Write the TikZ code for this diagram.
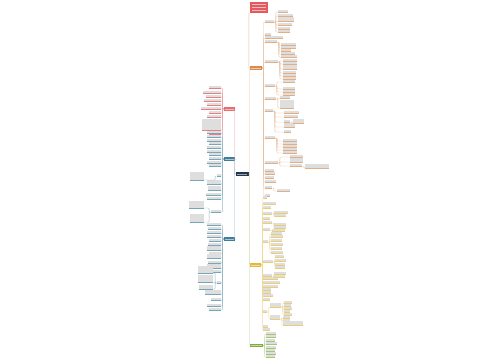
\documentclass[tikz,border=0pt]{standalone}
\usepackage{tikz}
\usetikzlibrary{positioning}
\definecolor{mmRed}{HTML}{E0474C}
\definecolor{mmBlue}{HTML}{3F7F9C}
\definecolor{mmOrange}{HTML}{D98B4E}
\definecolor{mmYellow}{HTML}{E3B938}
\definecolor{mmGreen}{HTML}{7DAE3A}
\definecolor{mmNavy}{HTML}{23364F}
\tikzset{
	mind sketch/.style={x=1pt,y=-1pt,line width=0.35pt},
	topic/.style={fill=#1,inner sep=0pt,minimum width=12pt,minimum height=3.4pt,
		path picture={\fill[white,opacity=.55]
			([xshift=1.2pt,yshift=-0.4pt]path picture bounding box.west) rectangle
			([xshift=-1.2pt,yshift=0.4pt]path picture bounding box.east);}},
	leaf/.style={fill=black!13,inner sep=0pt,minimum height=#1},
	leaf/.default=1.8pt,
	wire/.style={draw=#1!55,rounded corners=0.8pt},
	% the big title box
	headline/.style={fill=mmRed!90,inner sep=0pt,minimum width=18pt,minimum height=11pt,
		path picture={\foreach \k in {-3,0,3}
			\fill[white,opacity=.6]
				([xshift=2pt,yshift=\k pt-0.4pt]path picture bounding box.west) rectangle
				([xshift=-2pt,yshift=\k pt+0.4pt]path picture bounding box.east);}}
}
% children to the right: parent, parent anchor, colour, x, y/width/height list
\newcommand\kidsR[5]{%
	\foreach \yy/\ww/\hh [count=\i] in {#5} {
		\node[leaf=\hh pt, minimum width=\ww pt, anchor=south west] (#1-\i) at (#4,\yy) {};
		\draw[#3!70] (#1-\i.south west) -- (#1-\i.south east);
		\draw[wire=#3] (#1.#2) -- ++(1.5,0) |- (#1-\i.south west);
	}}
% children to the left, x is the right end
\newcommand\kidsL[5]{%
	\foreach \yy/\ww/\hh [count=\i] in {#5} {
		\node[leaf=\hh pt, minimum width=\ww pt, anchor=south east] (#1-\i) at (#4,\yy) {};
		\draw[#3!70] (#1-\i.south west) -- (#1-\i.south east);
		\draw[wire=#3] (#1.#2) -- ++(-1.5,0) |- (#1-\i.south east);
	}}

\begin{document}
\begin{tikzpicture}[mind sketch]
	\fill[white] (0,0) rectangle (500,360);
	\useasboundingbox (0,0) rectangle (500,360);

	% main topics
	\node[headline] (title) at (259,7.5) {};
	\node[topic=mmNavy, minimum width=13pt, minimum height=4pt] (hub) at (242,174) {};
	\node[topic=mmRed!80, minimum width=11pt] (R) at (229.5,109) {};
	\node[topic=mmBlue, minimum width=11pt] (B1) at (229.5,159) {};
	\node[topic=mmBlue, minimum width=11pt] (B2) at (229.5,239) {};
	\node[topic=mmOrange, minimum width=12pt] (O) at (256,68) {};
	\node[topic=mmYellow, minimum width=11pt] (Y) at (255.5,265) {};
	\node[topic=mmGreen, minimum width=13pt] (G) at (256.5,345.5) {};

	% trunks
	\draw[wire=mmOrange] (O.west) -- ++(-1,0) |- (title.south west);
	\draw[wire=mmOrange] (hub.east) -- ++(1,0) |- (O.west);
	\draw[wire=mmYellow] (hub.east) -- ++(1,0) |- (Y.west);
	\draw[wire=mmGreen] (hub.east) -- ++(1,0) |- (G.west);
	\draw[wire=mmRed] (hub.west) -- ++(-0.8,0) |- (R.east);
	\draw[wire=mmBlue] (hub.west) -- ++(-0.8,0) |- (B1.east);
	\draw[wire=mmBlue] (hub.west) -- ++(-0.8,0) |- (B2.east);

	% orange branch
	\kidsR{O}{east}{mmOrange}{265}{22/9/1.8, 35/6/1.8, 38/18/1.8, 42/12/1.8, 62/13/1.8,
		86/10/1.8, 99/11/1.8, 111/8/1.8, 138/10/1.8, 163/13/1.8, 171/9/1.8, 174/10/1.8,
		178/9/1.8, 182/11/1.8, 188/7/1.8, 196/5/1.8}
	\kidsR{O-1}{south east}{mmOrange}{278}{12/10/1.8, 16/15/1.8, 21/16/4, 25/14/1.8, 29/12/1.8, 32/12/1.8}
	\kidsR{O-4}{south east}{mmOrange}{281}{45/15/1.8, 48/15/1.8, 51/10/1.8, 54/14/1.8, 57/16/1.8}
	\kidsR{O-5}{south east}{mmOrange}{283}{61/14/1.8, 64/14/1.8, 69/14/4, 73/13/1.8, 76/13/1.8, 79/13/1.8}
	\kidsR{O-6}{south east}{mmOrange}{283}{82/12/1.8, 89/12/1.8, 92/12/1.8, 95/12/1.8}
	\kidsR{O-7}{south east}{mmOrange}{280}{98/10/1.8, 108/14/8}
	\kidsR{O-8}{south east}{mmOrange}{284}{113/15/1.8, 117/14/1.8, 122/6/1.8, 127/11/4, 132/7/1.8}
	\kidsR{O-8-3}{south east}{mmOrange}{293}{123/11/4}
	\kidsR{O-9}{south east}{mmOrange}{283}{141/14/1.8, 144/14/1.8, 147/14/1.8, 150/14/1.8, 153/14/1.8}
	\kidsR{O-10}{south east}{mmOrange}{290}{157/13/1.8, 162/13/4, 166/12/1.8}
	\kidsR{O-10-3}{south east}{mmOrange}{305}{168/24/3.6}
	\kidsR{O-15}{south east}{mmOrange}{277}{191/13/1.8}

	% yellow branch
	\kidsR{Y}{east}{mmYellow}{263}{198/4/1.8, 204/13/1.8, 208/8/1.8, 214/9/1.8, 219/7/1.8,
		223/9/1.8, 230/7/1.8, 242/5/1.8, 262/10/1.8, 276/9/1.8, 279/15/1.8, 283/17/1.8,
		287/15/1.8, 290/8/1.8, 293/8/1.8, 296/10/1.8, 300/7/1.8, 312/4/1.8, 327/5/1.8, 330/7/1.8}
	\kidsR{Y-4}{south east}{mmYellow}{274}{213/14/1.8, 216/12/1.8}
	\kidsR{Y-6}{south east}{mmYellow}{274}{225/12/1.8, 228/12/1.8}
	\kidsR{Y-7}{south east}{mmYellow}{272}{231/13/1.8}
	\kidsR{Y-8}{south east}{mmYellow}{271}{234/11/1.8, 237/12/1.8, 241/11/1.8, 245/12/1.8, 249/11/1.8, 253/12/1.8}
	\kidsR{Y-9}{south east}{mmYellow}{275}{257/9/1.8, 261/11/1.8, 265/10/1.8, 268/10/1.8}
	\kidsR{Y-10}{south east}{mmYellow}{274}{274/12/1.8, 277/11/1.8}
	\kidsR{Y-18}{south east}{mmYellow}{270}{307/11/3.6, 319/10/3.6}
	\kidsR{Y-18-1}{south east}{mmYellow}{284}{303/8/1.8, 306/7/1.8, 309/8/1.8, 312/6/1.8, 315/8/1.8}
	\kidsR{Y-18-2}{south east}{mmYellow}{283}{318/7/1.8, 321/7/1.8, 325/20/3.6}

	% green branch
	\kidsR{G}{east}{mmGreen}{266}{334/10/1.8, 337/10/1.8, 341/9/1.8, 344/11/1.8, 348/10/1.8,
		351/9/1.8, 354/10/1.8, 357/9/1.8}

	% red branch
	\kidsL{R}{west}{mmRed}{221}{88/12/1.8, 93/18/1.8, 97/15/1.8, 101/17/1.8, 105/14/1.8,
		109/20/1.8, 113/12/1.8, 117/14/1.8, 130/19/11, 134/12/1.8}

	% first blue branch
	\kidsL{B1}{west}{mmBlue}{221}{133/14/1.8, 137/14/1.8, 141/14/1.8, 144/12/1.8, 148/14/1.8,
		152/14/1.8, 155/12/1.8, 159/12/1.8, 163/14/1.8, 166/12/1.8, 176/4/1.8, 184/14/3.6,
		190/13/3.6, 195/15/1.8, 199/14/1.8, 212/10/1.8}
	\kidsL{B1-11}{south west}{mmBlue}{204}{180/14/8}
	\kidsL{B1-16}{south west}{mmBlue}{204}{208/15/6.5, 222/14/8}

	% second blue branch
	\kidsL{B2}{west}{mmBlue}{221}{225/14/1.8, 229/13/1.8, 233/14/1.8, 237/14/1.8, 241/12/1.8,
		245/13/1.8, 250/14/3.6, 254/12/1.8, 258/14/3.6, 263/13/1.8, 268/14/3.6, 272/12/1.8,
		283/4/1.8, 294/16/3.6, 300/10/1.8, 306/14/1.8, 310/12/1.8}
	\kidsL{B2-13}{south west}{mmBlue}{213}{273/15/6.5, 282/15/6.5, 289/14/3.6}
\end{tikzpicture}
\end{document}
